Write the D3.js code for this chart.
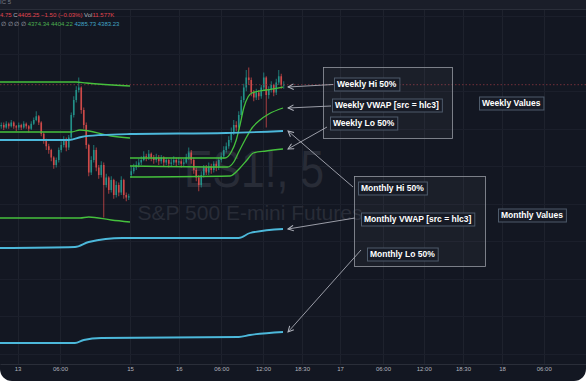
<!DOCTYPE html>
<html>
<head>
<meta charset="utf-8">
<script src="https://cdn.jsdelivr.net/npm/d3@7"></script>
<style>
  html, body { margin: 0; padding: 0; background: #ffffff; overflow: hidden; }
  svg { display: block; font-family: "Liberation Sans", Arial, sans-serif; }
</style>
</head>
<body>
<div id="chart"></div>
<script>
/* ES1! 5-minute chart with weekly / monthly VWAP bands, annotated. */

// ---- data -------------------------------------------------------------
// bar index -> candle; open = previous close except at session starts
var sessionStarts = [0, 52];
var sessionOpens = [4372, 4333];

var closes = [
  4373, 4371, 4374, 4372, 4375, 4372, 4371, 4373, 4371, 4374,
  4372, 4370, 4374, 4377, 4380, 4375, 4366, 4361, 4356, 4353,
  4347, 4341, 4345, 4353, 4357, 4361, 4355, 4363, 4381, 4393,
  4401, 4403, 4385, 4373, 4357, 4335, 4345, 4353, 4339, 4333,
  4341, 4325, 4331, 4321, 4329, 4317, 4325, 4319, 4329, 4317,
  4315, 4316,
  4336, 4339, 4341, 4343, 4345, 4348, 4347, 4350, 4347, 4345,
  4347, 4344, 4347, 4343, 4345, 4342, 4343, 4345, 4343, 4344,
  4342, 4343, 4347, 4351, 4345, 4337, 4331, 4325, 4333, 4339,
  4335, 4340, 4337, 4342, 4339, 4345, 4348, 4353, 4356, 4361,
  4367, 4373, 4371, 4381, 4393, 4403, 4411, 4409, 4399, 4395,
  4399, 4396, 4403, 4411, 4397, 4401, 4405, 4399, 4407, 4412,
  4405, 4405.25
];
var highs = [
  4375, 4375, 4376, 4375, 4377, 4376, 4373, 4375, 4374, 4376,
  4375, 4373, 4376, 4379, 4384, 4381, 4376, 4367, 4362, 4358,
  4354, 4348, 4347, 4355, 4360, 4364, 4363, 4365, 4383, 4396,
  4404, 4411, 4404, 4387, 4375, 4358, 4348, 4357, 4355, 4341,
  4344, 4343, 4334, 4332, 4332, 4330, 4328, 4327, 4332, 4330,
  4319, 4318,
  4340, 4342, 4344, 4346, 4348, 4352, 4350, 4353, 4351, 4349,
  4350, 4349, 4349, 4348, 4347, 4346, 4346, 4348, 4347, 4347,
  4346, 4346, 4350, 4355, 4353, 4347, 4339, 4333, 4336, 4341,
  4341, 4343, 4342, 4344, 4344, 4347, 4351, 4356, 4359, 4364,
  4371, 4377, 4376, 4384, 4396, 4406, 4417, 4419, 4411, 4401,
  4402, 4401, 4405, 4415, 4412, 4404, 4408, 4406, 4410, 4417,
  4414, 4408
];
var lows = [
  4370, 4369, 4370, 4370, 4371, 4370, 4368, 4369, 4369, 4370,
  4370, 4367, 4369, 4373, 4376, 4373, 4364, 4358, 4353, 4350,
  4344, 4338, 4339, 4343, 4351, 4355, 4352, 4353, 4361, 4379,
  4391, 4399, 4382, 4370, 4354, 4332, 4333, 4343, 4336, 4330,
  4331, 4299, 4323, 4318, 4319, 4314, 4315, 4316, 4317, 4314,
  4312, 4313,
  4331, 4334, 4337, 4339, 4341, 4344, 4344, 4345, 4344, 4342,
  4343, 4341, 4342, 4340, 4341, 4339, 4340, 4341, 4340, 4341,
  4339, 4340, 4342, 4345, 4342, 4334, 4328, 4320, 4323, 4331,
  4333, 4333, 4334, 4335, 4336, 4337, 4343, 4346, 4351, 4354,
  4359, 4365, 4368, 4369, 4379, 4391, 4400, 4405, 4396, 4392,
  4393, 4393, 4394, 4401, 4371, 4394, 4399, 4396, 4397, 4405,
  4402, 4402
];

// indicator lines: [bar index, price], one array per weekly/monthly segment
var weeklyHi = [
  [[-0.5, 4407.4], [30, 4407.4], [34, 4406.6], [51.5, 4404.2]],
  [[51.5, 4346.6], [89.5, 4346.6], [92, 4351.4], [94, 4361.0], [95.5, 4373.0],
   [97, 4386.6], [98.7, 4395.4], [100.3, 4398.6], [106, 4401.0], [112.7, 4403.4]]
];
var weeklyVwap = [
  [[-0.5, 4367.4], [28, 4367.4], [31.5, 4369.0], [44, 4364.2], [51.5, 4362.6]],
  [[51.5, 4340.2], [90.5, 4339.4], [93, 4343.4], [95, 4351.4], [97.5, 4361.0],
   [100.3, 4370.6], [103.5, 4377.0], [107, 4381.8], [112.7, 4386.6]]
];
var weeklyLo = [
  [[-0.5, 4298.6], [31.5, 4298.6], [35, 4299.4], [44, 4297.0], [51.5, 4295.4]],
  [[51.5, 4331.4], [91.5, 4332.2], [95.5, 4338.6], [98.3, 4345.0], [100.8, 4350.6],
   [106, 4352.2], [112.7, 4353.8]]
];
var monthlyHi = [[-0.5, 4361.0], [27, 4361.0], [32, 4363.4], [40, 4365.0], [51.5, 4365.8],
  [90, 4366.6], [112.7, 4368.2]];
var monthlyVwap = [[-0.5, 4274.6], [29.5, 4275.4], [35, 4279.4], [48.5, 4282.6], [95, 4282.6],
  [99.5, 4286.6], [112.7, 4289.8]];
var monthlyLo = [[-0.5, 4198.6], [29.5, 4198.6], [33, 4201.0], [40, 4202.6], [95, 4203.4],
  [99.5, 4205.0], [112.7, 4207.4]];

var lastPrice = 4405.25;

var tickIndex = [6.5, 23.5, 51.5, 71, 88, 104.7, 120.3, 135.5, 152.7, 169, 184.7, 200.3, 217];
var tickLabels = ['13', '06:00', '15', '16', '06:00', '12:00', '18:30', '17', '06:00', '12:00', '18:30', '18', '06:00'];
var gridPrices = [4190, 4220, 4250, 4280, 4310, 4340, 4370, 4400, 4430, 4460];

var weeklyLabels = ['Weekly Hi 50%', 'Weekly VWAP [src = hlc3]', 'Weekly Lo 50%'];
var monthlyLabels = ['Monthly Hi 50%', 'Monthly VWAP [src = hlc3]', 'Monthly Lo 50%'];

// ---- setup ------------------------------------------------------------
var W = 586, H = 381;
var PLOT_TOP = 9, PLOT_BOTTOM = 364;
var BG = '#131722';
var UP = '#26a69a', DOWN = '#ef5350';
var GREEN = '#45c13d', BLUE = '#4cb8da';

var x = d3.scaleLinear().domain([-0.5, 233.9]).range([0, W]);
var y = d3.scaleLinear().domain([4180, 4480]).range([366.25, -8.75]);

var svg = d3.select('#chart').append('svg')
  .attr('width', W)
  .attr('height', H);

svg.append('path')
  .attr('d', 'M0,0H' + W + 'V' + (H - 12) + 'A12,12 0 0 1 ' + (W - 12) + ',' + H + 'H12A12,12 0 0 1 0,' + (H - 12) + 'Z')
  .attr('fill', BG);

// top strip
svg.append('rect').attr('x', 0).attr('y', 0).attr('width', W).attr('height', PLOT_TOP)
  .attr('fill', '#1a1e29');
svg.append('line').attr('x1', 0).attr('x2', W).attr('y1', PLOT_TOP + 0.5).attr('y2', PLOT_TOP + 0.5)
  .attr('stroke', '#2a2e39');
svg.append('text').attr('x', 0).attr('y', 4).attr('fill', '#787b86')
  .attr('font-size', '6px').text('IC 5');

var defs = svg.append('defs');
defs.append('clipPath').attr('id', 'plot-clip')
  .append('rect').attr('x', 0).attr('y', PLOT_TOP + 1).attr('width', W).attr('height', PLOT_BOTTOM - PLOT_TOP - 1);

defs.append('marker')
  .attr('id', 'arrow')
  .attr('viewBox', '0 -5 10 10')
  .attr('refX', 9).attr('refY', 0)
  .attr('markerUnits', 'userSpaceOnUse')
  .attr('markerWidth', 7).attr('markerHeight', 7)
  .attr('orient', 'auto')
  .append('path')
  .attr('d', 'M1,-4L9,0L1,4')
  .attr('fill', 'none')
  .attr('stroke', '#b2b5be')
  .attr('stroke-width', 1.4);

var plot = svg.append('g').attr('clip-path', 'url(#plot-clip)');

/* ---- grid ---- */
plot.append('g').selectAll('line').data(tickIndex).enter().append('line')
  .attr('x1', function(d) { return Math.round(x(d)) + 0.5; })
  .attr('x2', function(d) { return Math.round(x(d)) + 0.5; })
  .attr('y1', PLOT_TOP).attr('y2', PLOT_BOTTOM)
  .attr('stroke', '#1e222d');

plot.append('g').selectAll('line').data(gridPrices).enter().append('line')
  .attr('x1', 0).attr('x2', W)
  .attr('y1', function(d) { return Math.round(y(d)) + 0.5; })
  .attr('y2', function(d) { return Math.round(y(d)) + 0.5; })
  .attr('stroke', '#1b1f2b');

/* ---- watermark ---- */
plot.append('text')
  .attr('x', 254).attr('y', 187)
  .attr('text-anchor', 'middle')
  .attr('font-size', '52px')
  .attr('textLength', 140)
  .attr('lengthAdjust', 'spacingAndGlyphs')
  .attr('fill', '#282c37')
  .text('ES1!, 5');
plot.append('text')
  .attr('x', 250).attr('y', 220)
  .attr('text-anchor', 'middle')
  .attr('font-size', '21px')
  .attr('fill', '#282c37')
  .text('S&P 500 E-mini Futures');

/* ---- candles ---- */
var bars = closes.map(function(c, i) {
  var s = sessionStarts.indexOf(i);
  var o = s >= 0 ? sessionOpens[s] : closes[i - 1];
  return { i: i, o: o, h: highs[i], l: lows[i], c: c };
});

var candle = plot.append('g').selectAll('g').data(bars).enter().append('g')
  .attr('opacity', 0.85);

candle.append('line')
  .attr('x1', function(d) { return x(d.i); })
  .attr('x2', function(d) { return x(d.i); })
  .attr('y1', function(d) { return y(d.h); })
  .attr('y2', function(d) { return y(d.l); })
  .attr('stroke', function(d) { return d.c >= d.o ? UP : DOWN; })
  .attr('stroke-width', 0.8);

candle.append('rect')
  .attr('x', function(d) { return x(d.i) - 0.8; })
  .attr('width', 1.6)
  .attr('y', function(d) { return y(Math.max(d.o, d.c)); })
  .attr('height', function(d) { return Math.max(0.8, Math.abs(y(d.o) - y(d.c))); })
  .attr('fill', function(d) { return d.c >= d.o ? UP : DOWN; });

/* ---- price line ---- */
plot.append('line')
  .attr('x1', 0).attr('x2', W)
  .attr('y1', y(lastPrice)).attr('y2', y(lastPrice))
  .attr('stroke', '#8a3540')
  .attr('stroke-width', 0.8)
  .attr('stroke-dasharray', '1.5,2');

/* ---- indicator lines ---- */
var line = d3.line()
  .x(function(d) { return x(d[0]); })
  .y(function(d) { return y(d[1]); })
  .curve(d3.curveMonotoneX);

[weeklyHi, weeklyVwap, weeklyLo].forEach(function(series) {
  series.forEach(function(seg) {
    plot.append('path').datum(seg)
      .attr('d', line)
      .attr('fill', 'none')
      .attr('stroke', GREEN)
      .attr('stroke-width', 1.3);
  });
});

[monthlyHi, monthlyVwap, monthlyLo].forEach(function(seg) {
  plot.append('path').datum(seg)
    .attr('d', line)
    .attr('fill', 'none')
    .attr('stroke', BLUE)
    .attr('stroke-width', 1.8);
});

/* ---- annotations ---- */
var ann = svg.append('g');

function frame(x0, y0, x1, y1) {
  ann.append('rect')
    .attr('x', x0 + 0.5).attr('y', y0 + 0.5)
    .attr('width', x1 - x0).attr('height', y1 - y0)
    .attr('fill', 'rgba(255,255,255,0.035)')
    .attr('stroke', '#9598a1')
    .attr('stroke-width', 0.8);
}

function tag(text, left, cy) {
  var g = ann.append('g');
  var r = g.append('rect');
  var t = g.append('text')
    .attr('x', left + 3).attr('y', cy)
    .attr('dy', '0.35em')
    .attr('font-size', '8.5px')
    .attr('font-weight', 'bold')
    .attr('fill', '#ffffff')
    .text(text);
  var w = t.node().getComputedTextLength();
  r.attr('x', left + 0.5).attr('y', cy - 6.5)
    .attr('width', w + 6).attr('height', 13)
    .attr('fill', '#171b26')
    .attr('stroke', '#4e5b6b')
    .attr('stroke-width', 1);
}

function arrow(x1, y1, series) {
  var last = series[series.length - 1];
  ann.append('line')
    .attr('x1', x1).attr('y1', y1)
    .attr('x2', x(last[0]) + 5).attr('y2', y(last[1]))
    .attr('stroke', '#a9acb5')
    .attr('stroke-width', 0.9)
    .attr('marker-end', 'url(#arrow)');
}

frame(323, 67, 452, 138);
frame(354, 176, 485, 266);

arrow(333, 84.5, weeklyHi[1]);
arrow(331, 106, weeklyVwap[1]);
arrow(327, 127, weeklyLo[1]);
arrow(353, 187, monthlyHi);
arrow(355, 218, monthlyVwap);
arrow(361, 250, monthlyLo);

tag(weeklyLabels[0], 334, 84.5);
tag(weeklyLabels[1], 332, 105.5);
tag(weeklyLabels[2], 330, 123.5);
tag('Weekly Values', 479, 103.5);
tag(monthlyLabels[0], 358, 188.5);
tag(monthlyLabels[1], 361, 219.5);
tag(monthlyLabels[2], 367, 254.5);
tag('Monthly Values', 498, 215.5);

/* ---- legend rows ---- */
var row1 = svg.append('text').attr('x', 0).attr('y', 17).attr('font-size', '6px');
row1.append('tspan').attr('fill', '#e0454f').text('4.75 ');
row1.append('tspan').attr('fill', '#b2b5be').text('C');
row1.append('tspan').attr('fill', '#e0454f').text('4405.25  −1.50 (−0.03%) ');
row1.append('tspan').attr('fill', '#b2b5be').text('Vol');
row1.append('tspan').attr('fill', '#e0454f').text('11.577K');

var row2 = svg.append('text').attr('x', 1).attr('y', 26).attr('font-size', '6px');
row2.append('tspan').attr('fill', '#b2b5be').text('∅  ∅  ∅  ∅  ');
row2.append('tspan').attr('fill', '#4caf50').text('4374.34  4404.22  ');
row2.append('tspan').attr('fill', '#42a5c8').text('4285.73  4383.23');

/* ---- time axis ---- */
var axis = svg.append('g')
  .attr('transform', 'translate(0,' + PLOT_BOTTOM + ')')
  .call(d3.axisBottom(x)
    .tickValues(tickIndex)
    .tickFormat(function(d, i) { return tickLabels[i]; })
    .tickSize(0)
    .tickPadding(3));

axis.select('.domain').attr('stroke', '#2a2e39');
axis.selectAll('text')
  .attr('fill', '#b2b5be')
  .attr('font-size', '6px')
  .attr('font-family', '"Liberation Sans", Arial, sans-serif');
</script>
</body>
</html>
